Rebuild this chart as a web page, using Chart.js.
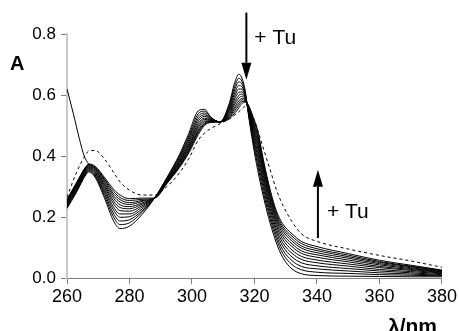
<!DOCTYPE html>
<html>
<head>
<meta charset="utf-8">
<script src="https://cdn.jsdelivr.net/npm/chart.js@4.4.1/dist/chart.umd.min.js"></script>
<style>
  body { margin: 0; background: #fff; }
</style>
</head>
<body>
<canvas id="spectra" width="459" height="331"></canvas>
<script>
// wavelength grid (nm) shared by all scans
const wavelengths = [260, 263, 266, 267, 269, 272, 275, 277, 280, 284, 288, 292, 296, 299, 302, 304, 306, 309, 312, 313.5, 315, 316, 317, 318, 319.5, 321, 323, 325, 327, 329, 332, 335, 340, 350, 360, 370, 380];

// titration scans, first (no Tu) to last
const scan01 = [0.228, 0.280, 0.338, 0.348, 0.330, 0.262, 0.185, 0.162, 0.170, 0.208, 0.262, 0.330, 0.405, 0.475, 0.548, 0.553, 0.528, 0.512, 0.575, 0.635, 0.668, 0.655, 0.615, 0.540, 0.440, 0.355, 0.260, 0.180, 0.115, 0.068, 0.030, 0.014, 0.008, 0.006, 0.005, 0.004, 0.004];
const scan02 = [0.232, 0.284, 0.341, 0.351, 0.334, 0.270, 0.198, 0.175, 0.181, 0.215, 0.262, 0.328, 0.400, 0.467, 0.539, 0.547, 0.526, 0.512, 0.569, 0.623, 0.655, 0.645, 0.610, 0.543, 0.451, 0.371, 0.274, 0.193, 0.128, 0.081, 0.044, 0.027, 0.019, 0.015, 0.011, 0.009, 0.007];
const scan03 = [0.235, 0.287, 0.344, 0.354, 0.338, 0.278, 0.209, 0.187, 0.191, 0.220, 0.262, 0.325, 0.395, 0.460, 0.530, 0.541, 0.524, 0.512, 0.563, 0.613, 0.643, 0.636, 0.606, 0.546, 0.461, 0.385, 0.288, 0.205, 0.139, 0.093, 0.057, 0.038, 0.030, 0.023, 0.017, 0.013, 0.009];
const scan04 = [0.238, 0.291, 0.347, 0.357, 0.342, 0.285, 0.221, 0.199, 0.201, 0.226, 0.262, 0.323, 0.390, 0.453, 0.522, 0.535, 0.522, 0.512, 0.557, 0.602, 0.631, 0.627, 0.602, 0.550, 0.471, 0.399, 0.301, 0.217, 0.151, 0.105, 0.069, 0.050, 0.040, 0.031, 0.023, 0.017, 0.011];
const scan05 = [0.241, 0.294, 0.350, 0.359, 0.346, 0.292, 0.231, 0.210, 0.210, 0.232, 0.262, 0.321, 0.386, 0.446, 0.514, 0.530, 0.520, 0.512, 0.552, 0.592, 0.620, 0.619, 0.598, 0.552, 0.480, 0.412, 0.313, 0.228, 0.161, 0.116, 0.081, 0.061, 0.050, 0.039, 0.028, 0.021, 0.014];
const scan06 = [0.244, 0.297, 0.353, 0.362, 0.349, 0.299, 0.242, 0.221, 0.219, 0.237, 0.262, 0.319, 0.382, 0.440, 0.506, 0.524, 0.518, 0.512, 0.546, 0.583, 0.609, 0.610, 0.594, 0.555, 0.489, 0.425, 0.325, 0.239, 0.172, 0.127, 0.092, 0.071, 0.059, 0.046, 0.034, 0.025, 0.016];
const scan07 = [0.247, 0.300, 0.355, 0.364, 0.353, 0.305, 0.251, 0.231, 0.227, 0.242, 0.262, 0.317, 0.378, 0.434, 0.499, 0.520, 0.517, 0.512, 0.542, 0.574, 0.599, 0.603, 0.590, 0.558, 0.497, 0.437, 0.336, 0.249, 0.181, 0.137, 0.103, 0.081, 0.068, 0.053, 0.038, 0.028, 0.018];
const scan08 = [0.249, 0.303, 0.357, 0.367, 0.356, 0.310, 0.260, 0.240, 0.234, 0.246, 0.262, 0.316, 0.375, 0.429, 0.493, 0.515, 0.515, 0.512, 0.537, 0.566, 0.590, 0.596, 0.587, 0.560, 0.504, 0.447, 0.345, 0.258, 0.190, 0.146, 0.112, 0.089, 0.076, 0.059, 0.043, 0.031, 0.020];
const scan09 = [0.252, 0.305, 0.359, 0.369, 0.358, 0.316, 0.268, 0.249, 0.241, 0.251, 0.262, 0.314, 0.371, 0.424, 0.486, 0.511, 0.514, 0.512, 0.533, 0.558, 0.581, 0.589, 0.584, 0.562, 0.511, 0.458, 0.355, 0.267, 0.198, 0.155, 0.121, 0.098, 0.083, 0.065, 0.047, 0.034, 0.021];
const scan10 = [0.254, 0.308, 0.361, 0.370, 0.361, 0.321, 0.275, 0.257, 0.247, 0.254, 0.262, 0.313, 0.368, 0.419, 0.481, 0.507, 0.513, 0.512, 0.529, 0.552, 0.573, 0.584, 0.582, 0.564, 0.517, 0.467, 0.363, 0.275, 0.205, 0.163, 0.129, 0.105, 0.090, 0.070, 0.051, 0.037, 0.023];
const scan11 = [0.256, 0.310, 0.363, 0.372, 0.364, 0.325, 0.283, 0.264, 0.254, 0.258, 0.262, 0.311, 0.365, 0.415, 0.476, 0.504, 0.511, 0.512, 0.526, 0.545, 0.566, 0.578, 0.579, 0.566, 0.524, 0.476, 0.372, 0.282, 0.213, 0.170, 0.137, 0.113, 0.096, 0.075, 0.054, 0.039, 0.025];
const scan12 = [0.258, 0.312, 0.365, 0.374, 0.366, 0.330, 0.290, 0.272, 0.260, 0.262, 0.262, 0.310, 0.362, 0.410, 0.470, 0.500, 0.510, 0.512, 0.522, 0.538, 0.558, 0.572, 0.576, 0.568, 0.530, 0.485, 0.380, 0.290, 0.220, 0.178, 0.145, 0.120, 0.103, 0.080, 0.058, 0.042, 0.026];

// dashed spectrum (end of titration)
const dashedScan = [0.265, 0.345, 0.405, 0.417, 0.418, 0.390, 0.345, 0.315, 0.288, 0.272, 0.272, 0.300, 0.345, 0.392, 0.452, 0.475, 0.490, 0.506, 0.522, 0.533, 0.545, 0.555, 0.562, 0.558, 0.528, 0.485, 0.420, 0.355, 0.290, 0.240, 0.185, 0.145, 0.120, 0.095, 0.074, 0.056, 0.035];

// steep solid line at short wavelength
const steepLambda = [260, 262, 264, 265.5, 267];
const steepValues = [0.62, 0.54, 0.455, 0.40, 0.372];

const xTicks = [260, 280, 300, 320, 340, 360, 380];
const yTicks = [0.0, 0.2, 0.4, 0.6, 0.8];

const FONT = "'Liberation Sans', Arial, sans-serif";

const toPoints = (xs, ys) => xs.map((x, i) => ({ x: x, y: ys[i] }));

const scans = [scan01, scan02, scan03, scan04, scan05, scan06, scan07, scan08, scan09, scan10, scan11, scan12];

let datasets = scans.map((s, i) => ({
    label: 'scan ' + (i + 1),
    data: toPoints(wavelengths, s),
    borderColor: '#000',
    borderWidth: 1,
    pointRadius: 0,
    cubicInterpolationMode: 'monotone'
}));

datasets.push({
    label: 'final',
    data: toPoints(wavelengths, dashedScan),
    borderColor: '#000',
    borderWidth: 1,
    borderDash: [3, 3],
    pointRadius: 0,
    cubicInterpolationMode: 'monotone'
});

datasets.push({
    label: 'start',
    data: toPoints(steepLambda, steepValues),
    borderColor: '#000',
    borderWidth: 1,
    pointRadius: 0,
    cubicInterpolationMode: 'monotone'
});

const drawArrow = (ctx, x, yTail, yTip) => {
    const dir = yTip > yTail ? 1 : -1;
    const head = 17;
    ctx.beginPath();
    ctx.moveTo(x, yTail);
    ctx.lineTo(x, yTip - dir * head);
    ctx.lineWidth = 2;
    ctx.strokeStyle = '#000';
    ctx.stroke();
    ctx.beginPath();
    ctx.moveTo(x, yTip);
    ctx.lineTo(x - 5, yTip - dir * head);
    ctx.lineTo(x + 5, yTip - dir * head);
    ctx.closePath();
    ctx.fillStyle = '#000';
    ctx.fill();
};

const annotations = {
    id: 'annotations',
    afterDraw(chart) {
        const { ctx, chartArea, scales: { x, y } } = chart;
        ctx.save();

        // + Tu arrows
        const x1 = x.getPixelForValue(317.4);
        drawArrow(ctx, x1, y.getPixelForValue(0.87), y.getPixelForValue(0.65));
        const x2 = x.getPixelForValue(340.3);
        drawArrow(ctx, x2, y.getPixelForValue(0.131), y.getPixelForValue(0.355));

        ctx.fillStyle = '#000';
        ctx.font = '21px ' + FONT;
        ctx.textAlign = 'left';
        ctx.textBaseline = 'middle';
        ctx.fillText('+ Tu', x1 + 8, y.getPixelForValue(0.785));
        ctx.fillText('+ Tu', x2 + 9, y.getPixelForValue(0.217));

        // axis labels
        ctx.font = 'bold 20px ' + FONT;
        ctx.fillText('A', 10, 64);
        ctx.textAlign = 'right';
        ctx.textBaseline = 'alphabetic';
        ctx.font = 'bold 21px ' + FONT;
        ctx.fillText('λ/nm', chartArea.right - 5, 333);

        ctx.restore();
    }
};

const config = {
    type: 'line',
    data: { datasets: datasets },
    options: {
        responsive: false,
        animation: false,
        layout: { padding: { left: 0, top: 34, right: 16, bottom: 0 } },
        plugins: {
            legend: { display: false },
            tooltip: { enabled: false }
        },
        scales: {
            x: {
                type: 'linear',
                min: 260,
                max: 380,
                afterBuildTicks: (scale) => { scale.ticks = xTicks.map(v => ({ value: v })); },
                afterFit: (scale) => { scale.height = 53; },
                border: { display: true, color: '#808080', width: 1 },
                grid: { drawOnChartArea: false, drawTicks: true, tickLength: 6, color: '#808080' },
                ticks: { color: '#000', padding: 2, font: { family: FONT, size: 18 } }
            },
            y: {
                min: 0,
                max: 0.8,
                afterBuildTicks: (scale) => { scale.ticks = yTicks.map(v => ({ value: v })); },
                afterFit: (scale) => { scale.width = 67; },
                border: { display: true, color: '#c8c8c8', width: 2 },
                grid: { drawOnChartArea: false, drawTicks: true, tickLength: 6, color: '#808080' },
                ticks: {
                    color: '#000',
                    padding: 5,
                    font: { family: FONT, size: 17 },
                    callback: (v) => Number(v).toFixed(1)
                }
            }
        }
    },
    plugins: [annotations]
};

new Chart(document.getElementById('spectra').getContext('2d'), config);
</script>
</body>
</html>
